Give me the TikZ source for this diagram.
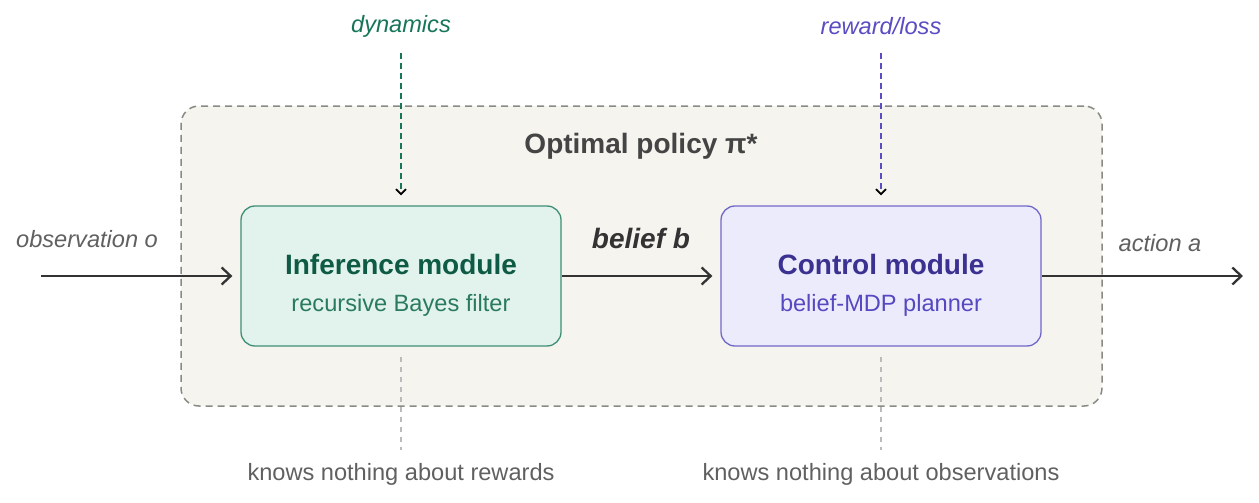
\documentclass[tikz,border=0pt]{standalone}
\usepackage{fontspec}
\setmainfont{Liberation Sans}
\usetikzlibrary{arrows.meta}
\definecolor{frameFill}{HTML}{F5F4EF}
\definecolor{frameLine}{HTML}{8A8A85}
\definecolor{infFill}{HTML}{E1F3EC}
\definecolor{infLine}{HTML}{3F8F76}
\definecolor{infDark}{HTML}{0E5A44}
\definecolor{infMid}{HTML}{2A7A5F}
\definecolor{ctlFill}{HTML}{ECEBFC}
\definecolor{ctlLine}{HTML}{7068C8}
\definecolor{ctlDark}{HTML}{3A3190}
\definecolor{ctlMid}{HTML}{5548C0}
\definecolor{dynCol}{HTML}{17765A}
\definecolor{rewCol}{HTML}{5A4CC2}
\definecolor{arrCol}{HTML}{333333}
\definecolor{grayText}{HTML}{606060}
\definecolor{titleCol}{HTML}{444444}
\definecolor{noteLine}{HTML}{BBBBBB}
\begin{document}
\begin{tikzpicture}[x=1pt,y=-1pt,
  modbox/.style={draw, line width=1.3pt, rounded corners=14pt, minimum width=320pt, minimum height=140pt, inner sep=0pt},
  smalllbl/.style={font=\fontsize{23.6}{26}\selectfont, inner sep=0pt},
  itallbl/.style={font=\itshape\fontsize{23.6}{26}\selectfont, inner sep=0pt},
  flow/.style={draw=arrCol, line width=2.7pt, -{Straight Barb[length=9pt,width=17pt,line width=2.3pt]}},
  feed/.style={dash pattern=on 6pt off 4pt, line width=2.4pt, -{Straight Barb[length=5pt,width=10pt,line width=1.7pt,color=black]}},
  note/.style={draw=noteLine, line width=1.5pt, dash pattern=on 5pt off 5pt}
]
\useasboundingbox (0,0) rectangle (1259,503);
% outer frame
\node[draw=frameLine, fill=frameFill, line width=1.5pt, dash pattern=on 7pt off 5pt, rounded corners=18pt,
  minimum width=921pt, minimum height=300pt, inner sep=0pt] (frame) at (641.5,256) {};
\node[font=\bfseries\fontsize{28}{30}\selectfont, text=titleCol, inner sep=0pt] (title) at (641,146) {Optimal policy π*};
% modules
\node[modbox, draw=infLine, fill=infFill] (inf) at (401,276) {};
\node[font=\bfseries\fontsize{28}{30}\selectfont, text=infDark, inner sep=0pt] (infT) at (401,264) {Inference module};
\node[smalllbl, text=infMid] (infS) at (401,305) {recursive Bayes filter};
\node[modbox, draw=ctlLine, fill=ctlFill] (ctl) at (881,276) {};
\node[font=\bfseries\fontsize{28}{30}\selectfont, text=ctlDark, inner sep=0pt] (ctlT) at (881,264) {Control module};
\node[smalllbl, text=ctlMid] (ctlS) at (881,305) {belief-MDP planner};
% top inputs
\node[itallbl, text=dynCol] (dyn) at (401,26) {dynamics};
\node[itallbl, text=rewCol] (rew) at (881,26) {reward/loss};
\coordinate (dynS) at (401,53);
\coordinate (rewS) at (881,53);
\draw[feed, draw=dynCol] (dynS) -- ([yshift=10pt]inf.north);
\draw[feed, draw=rewCol] (rewS) -- ([yshift=10pt]ctl.north);
% flow
\coordinate (obsS) at (41,276);
\coordinate (actE) at (1243,276);
\node[itallbl, text=grayText, anchor=west] (obs) at (16,239) {observation o};
\node[itallbl, text=grayText] (act) at (1160,243) {action a};
\node[font=\bfseries\itshape\fontsize{28}{30}\selectfont, text=arrCol, inner sep=0pt] (bel) at (641,238) {belief b};
\draw[flow] (obsS) -- ([xshift=-8pt]inf.west);
\draw[flow] (inf.east) -- ([xshift=-8pt]ctl.west);
\draw[flow] (ctl.east) -- (actE);
% notes
\node[smalllbl, text=grayText] (n1) at (401,474) {knows nothing about rewards};
\node[smalllbl, text=grayText] (n2) at (881,474) {knows nothing about observations};
\draw[note] ([yshift=-10pt]inf.south) -- ([yshift=13pt]n1.north);
\draw[note] ([yshift=-10pt]ctl.south) -- ([yshift=13pt]n2.north);
\end{tikzpicture}
\end{document}
